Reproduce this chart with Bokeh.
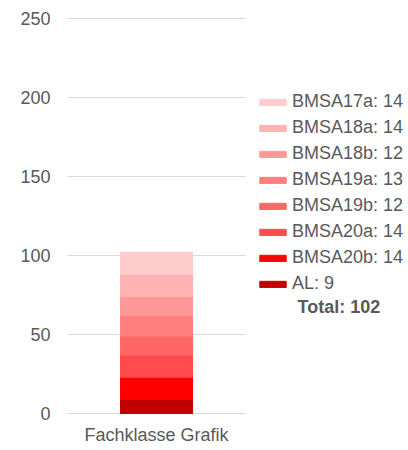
from bokeh.plotting import figure
from bokeh.models import ColumnDataSource, Range1d, FixedTicker, Legend, LegendItem, Label, Grid
from bokeh.embed import file_html
from bokeh.resources import INLINE

category = ["Fachklasse Grafik"]
classes = ["AL", "BMSA20b", "BMSA20a", "BMSA19b", "BMSA19a", "BMSA18b", "BMSA18a", "BMSA17a"]
counts = [9, 14, 14, 12, 13, 12, 14, 14]
colors = ["#C00000", "#FF0000", "#FF4B4B", "#FF6666", "#FF7F7F", "#FF9999", "#FFB2B2", "#FFCCCC"]
y_ticks = [0, 50, 100, 150, 200, 250]
total = sum(counts)

FONT = "Liberation Sans"
GREY = "#595959"

# numeric x: the category occupies [0, 1]; the rest of the frame holds the legend
cat_pos = [0.5]
data = {"x": cat_pos}
for c, v in zip(classes, counts):
    data[c] = [v]
source = ColumnDataSource(data)

FRAME_W = 341
PLOT_W = 178
p = figure(x_range=Range1d(0, FRAME_W / PLOT_W), y_range=Range1d(-0.6, 250.6),
           frame_width=FRAME_W, frame_height=397,
           min_border_left=67, min_border_right=0, min_border_top=17,
           output_backend="svg", toolbar_location=None)

renderers = p.vbar_stack(classes, x="x", width=0.405, color=colors, source=source)

p.outline_line_color = None
p.xgrid.grid_line_color = None
p.yaxis.ticker = FixedTicker(ticks=y_ticks)
if "cross_bounds" in Grid.properties():
    p.ygrid.ticker = FixedTicker(ticks=y_ticks)
    p.ygrid.cross_bounds = (0, 1)
    p.ygrid.grid_line_color = "#D9D9D9"
    p.ygrid.grid_line_width = 1
else:
    p.ygrid.grid_line_color = None
    p.segment(x0=[0] * len(y_ticks), x1=[1] * len(y_ticks), y0=y_ticks, y1=y_ticks,
              line_color="#D9D9D9", line_width=1)

p.xaxis.ticker = FixedTicker(ticks=cat_pos)
p.xaxis.major_label_overrides = {cat_pos[0]: category[0]}

for ax in (p.xaxis, p.yaxis):
    ax.axis_line_color = None
    ax.major_tick_line_color = None
    ax.minor_tick_line_color = None
    ax.major_tick_out = 0
    ax.major_tick_in = 0
    ax.major_label_text_font = FONT
    ax.major_label_text_font_size = "18px"
    ax.major_label_text_color = GREY
p.yaxis.major_label_standoff = 17
p.xaxis.major_label_standoff = 10

items = [LegendItem(label=f"{c}: {v}", renderers=[r])
         for c, v, r in zip(classes, counts, renderers)][::-1]
legend = Legend(items=items, location=(189, 117.5), orientation="vertical",
                glyph_width=33, glyph_height=8, label_standoff=3,
                padding=0, margin=0, spacing=0, label_height=26,
                border_line_color=None, background_fill_alpha=0,
                label_text_font=FONT, label_text_font_size="18px",
                label_text_color=GREY)
p.add_layout(legend)

total_label = Label(x=230, y=108, x_units="screen", y_units="screen",
                    text=f"Total: {total}", text_font=FONT, text_font_size="18px",
                    text_font_style="bold", text_color=GREY, text_baseline="middle")
p.add_layout(total_label)

open("out.html", "w").write(file_html(p, INLINE))
